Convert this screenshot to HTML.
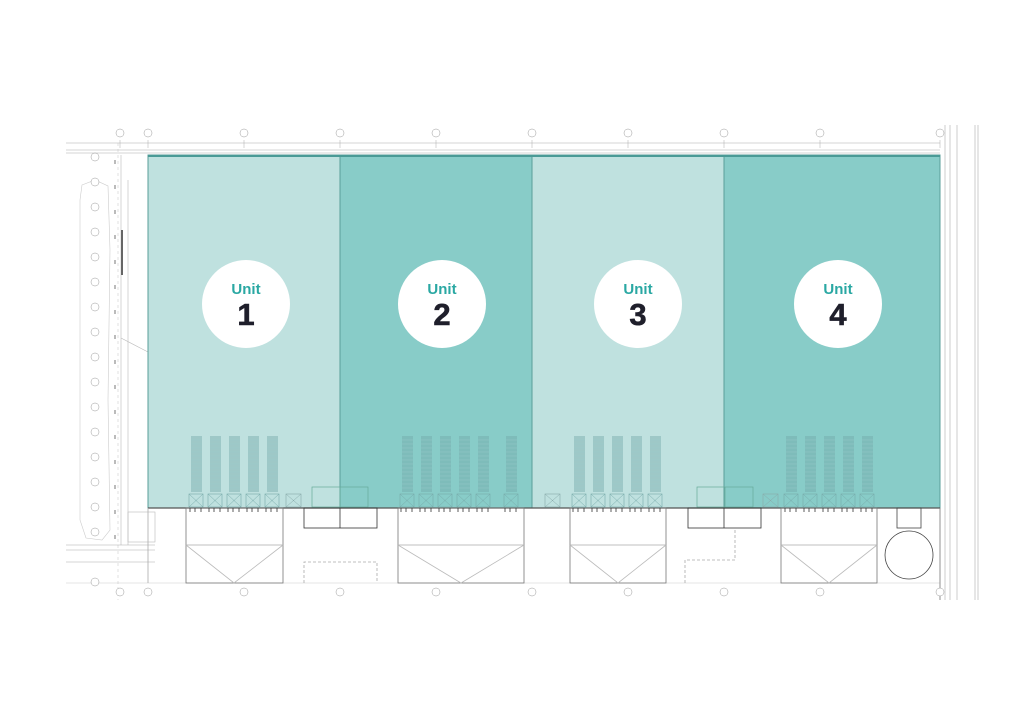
<!DOCTYPE html>
<html><head><meta charset="utf-8"><style>
html,body{margin:0;padding:0;background:#fff;width:1024px;height:724px;overflow:hidden}
svg{display:block}
text{font-family:"Liberation Sans",sans-serif}
</style></head><body>
<svg id="s" width="1024" height="724" viewBox="0 0 1024 724" xmlns="http://www.w3.org/2000/svg">
<g stroke="#aaa" stroke-width="0.6" fill="none">
<line x1="66" y1="143" x2="940" y2="143"/>
<line x1="66" y1="150" x2="940" y2="150"/>
<line x1="66" y1="153" x2="940" y2="153"/>
<line x1="118" y1="143" x2="118" y2="600" stroke-dasharray="3,3" stroke="#ccc"/>
<line x1="121" y1="155" x2="121" y2="545" stroke="#bbb"/>
<line x1="128" y1="180" x2="128" y2="545" stroke="#bbb"/>
<line x1="122" y1="230" x2="122" y2="275" stroke="#666" stroke-width="2"/>
<line x1="945" y1="125" x2="945" y2="600"/>
<line x1="950" y1="125" x2="950" y2="600"/>
<line x1="957" y1="125" x2="957" y2="600"/>
<line x1="975" y1="125" x2="975" y2="600"/>
<line x1="978" y1="125" x2="978" y2="600"/>
<line x1="66" y1="583" x2="940" y2="583" stroke="#ccc"/>
<path d="M82 185 L95 180 L108 186 L110 250 L108 400 L110 530 L102 540 L86 538 L80 520 L80 200 Z" stroke="#ccc"/>
<line x1="66" y1="545" x2="155" y2="545"/>
<line x1="66" y1="550" x2="155" y2="550"/>
<line x1="66" y1="562" x2="155" y2="562"/>
<rect x="128" y="512" width="27" height="30" stroke="#bbb"/>
<line x1="121" y1="338" x2="148" y2="352" stroke="#bbb"/>
</g>
<rect x="148" y="155" width="192" height="353" fill="#bfe1df"/>
<rect x="340" y="155" width="192" height="353" fill="#88ccc8"/>
<rect x="532" y="155" width="192" height="353" fill="#bfe1df"/>
<rect x="724" y="155" width="216" height="353" fill="#88ccc8"/>
<g stroke="#5a9e9a" stroke-width="1" fill="none">
<line x1="340" y1="155" x2="340" y2="508"/>
<line x1="532" y1="155" x2="532" y2="508"/>
<line x1="724" y1="155" x2="724" y2="508"/>
<rect x="148" y="155" width="792" height="353"/>
</g>
<line x1="148" y1="156" x2="940" y2="156" stroke="#4a9a96" stroke-width="2"/>
<line x1="148" y1="508" x2="940" y2="508" stroke="#555" stroke-width="1.2"/>
<g stroke="#777" stroke-width="0.8" fill="none">
<rect x="186" y="508" width="97" height="75"/><line x1="186" y1="545" x2="283" y2="545" stroke="#aaa"/><path d="M186 545 L234 583 L283 545" stroke="#bbb"/>
<rect x="398" y="508" width="126" height="75"/><line x1="398" y1="545" x2="524" y2="545" stroke="#aaa"/><path d="M398 545 L461 583 L524 545" stroke="#bbb"/>
<rect x="570" y="508" width="96" height="75"/><line x1="570" y1="545" x2="666" y2="545" stroke="#aaa"/><path d="M570 545 L618 583 L666 545" stroke="#bbb"/>
<rect x="781" y="508" width="96" height="75"/><line x1="781" y1="545" x2="877" y2="545" stroke="#aaa"/><path d="M781 545 L829 583 L877 545" stroke="#bbb"/>
<rect x="304" y="508" width="73" height="20" stroke="#333"/><line x1="340" y1="508" x2="340" y2="528" stroke="#333"/>
<rect x="688" y="508" width="73" height="20" stroke="#333"/><line x1="724" y1="508" x2="724" y2="528" stroke="#333"/>
<path d="M304 583 L304 562 L377 562 L377 583" stroke="#aaa" stroke-dasharray="3,2"/>
<path d="M685 583 L685 560 L735 560 L735 528" stroke="#aaa" stroke-dasharray="3,2"/>
<rect x="897" y="508" width="24" height="20" stroke="#444"/>
<circle cx="909" cy="555" r="24" stroke="#444"/>
<line x1="148" y1="508" x2="148" y2="583" stroke="#aaa"/>
<line x1="940" y1="508" x2="940" y2="600"/>
</g>
<g id="dyn"></g>
<g fill="#fff">
<circle cx="246" cy="304" r="44"/><circle cx="442" cy="304" r="44"/><circle cx="638" cy="304" r="44"/><circle cx="838" cy="304" r="44"/>
</g>
<g text-anchor="middle">
<text x="246" y="294" font-size="15" font-weight="bold" fill="#2aa8a3">Unit</text>
<text x="246" y="325" font-size="31" font-weight="bold" fill="#1f1f2b" stroke="#1f1f2b" stroke-width="0.6">1</text>
<text x="442" y="294" font-size="15" font-weight="bold" fill="#2aa8a3">Unit</text>
<text x="442" y="325" font-size="31" font-weight="bold" fill="#1f1f2b" stroke="#1f1f2b" stroke-width="0.6">2</text>
<text x="638" y="294" font-size="15" font-weight="bold" fill="#2aa8a3">Unit</text>
<text x="638" y="325" font-size="31" font-weight="bold" fill="#1f1f2b" stroke="#1f1f2b" stroke-width="0.6">3</text>
<text x="838" y="294" font-size="15" font-weight="bold" fill="#2aa8a3">Unit</text>
<text x="838" y="325" font-size="31" font-weight="bold" fill="#1f1f2b" stroke="#1f1f2b" stroke-width="0.6">4</text>
</g>
</svg>
<script>
var g=document.getElementById('dyn'),h='';
function c(x,y){h+='<circle cx="'+x+'" cy="'+y+'" r="4" fill="#fff" stroke="#999" stroke-width="0.5"/>';}
[120,148,244,340,436,532,628,724,820,940].forEach(function(x){c(x,133);c(x,592);h+='<line x1="'+x+'" y1="140" x2="'+x+'" y2="148" stroke="#aaa" stroke-width="0.5"/>';});
[157,182,207,232,257,282,307,332,357,382,407,432,457,482,507,532,582].forEach(function(y){c(95,y);});
for(var y=160;y<540;y+=25){h+='<line x1="115" y1="'+y+'" x2="115" y2="'+(y+4)+'" stroke="#777" stroke-width="1"/>';}
function racks(xs){xs.forEach(function(x){
 h+='<rect x="'+x+'" y="436" width="11" height="56" fill="#6fa8a8" opacity="0.42"/>';
 for(var yy=440;yy<492;yy+=4)h+='<line x1="'+x+'" y1="'+yy+'" x2="'+(x+11)+'" y2="'+yy+'" stroke="#9cc" stroke-width="0.4"/>';
 h+='<rect x="'+(x-2)+'" y="494" width="14" height="13" fill="none" stroke="#7aa" stroke-width="0.6"/><path d="M'+(x-2)+' 494 L'+(x+12)+' 507 M'+(x+12)+' 494 L'+(x-2)+' 507" stroke="#7aa" stroke-width="0.5"/>';
 h+='<path d="M'+(x-1)+' 508 v4 M'+(x+4)+' 508 v4 M'+(x+10)+' 508 v4" stroke="#333" stroke-width="0.8"/>';
});}
racks([191,210,229,248,267,402,421,440,459,478,506,574,593,612,631,650,786,805,824,843,862]);
[[286,494],[545,494],[763,494]].forEach(function(p){h+='<rect x="'+p[0]+'" y="'+p[1]+'" width="15" height="13" fill="none" stroke="#8aa" stroke-width="0.6"/><path d="M'+p[0]+' '+p[1]+' l15 13 m0 -13 l-15 13" stroke="#8aa" stroke-width="0.5"/>';});
[[312,487],[697,487]].forEach(function(p){h+='<rect x="'+p[0]+'" y="'+p[1]+'" width="56" height="20" fill="none" stroke="#6a9" stroke-width="0.7"/><line x1="'+(p[0]+28)+'" y1="'+p[1]+'" x2="'+(p[0]+28)+'" y2="'+(p[1]+20)+'" stroke="#6a9" stroke-width="0.7"/>';});
g.innerHTML=h;
</script>
</body></html>
